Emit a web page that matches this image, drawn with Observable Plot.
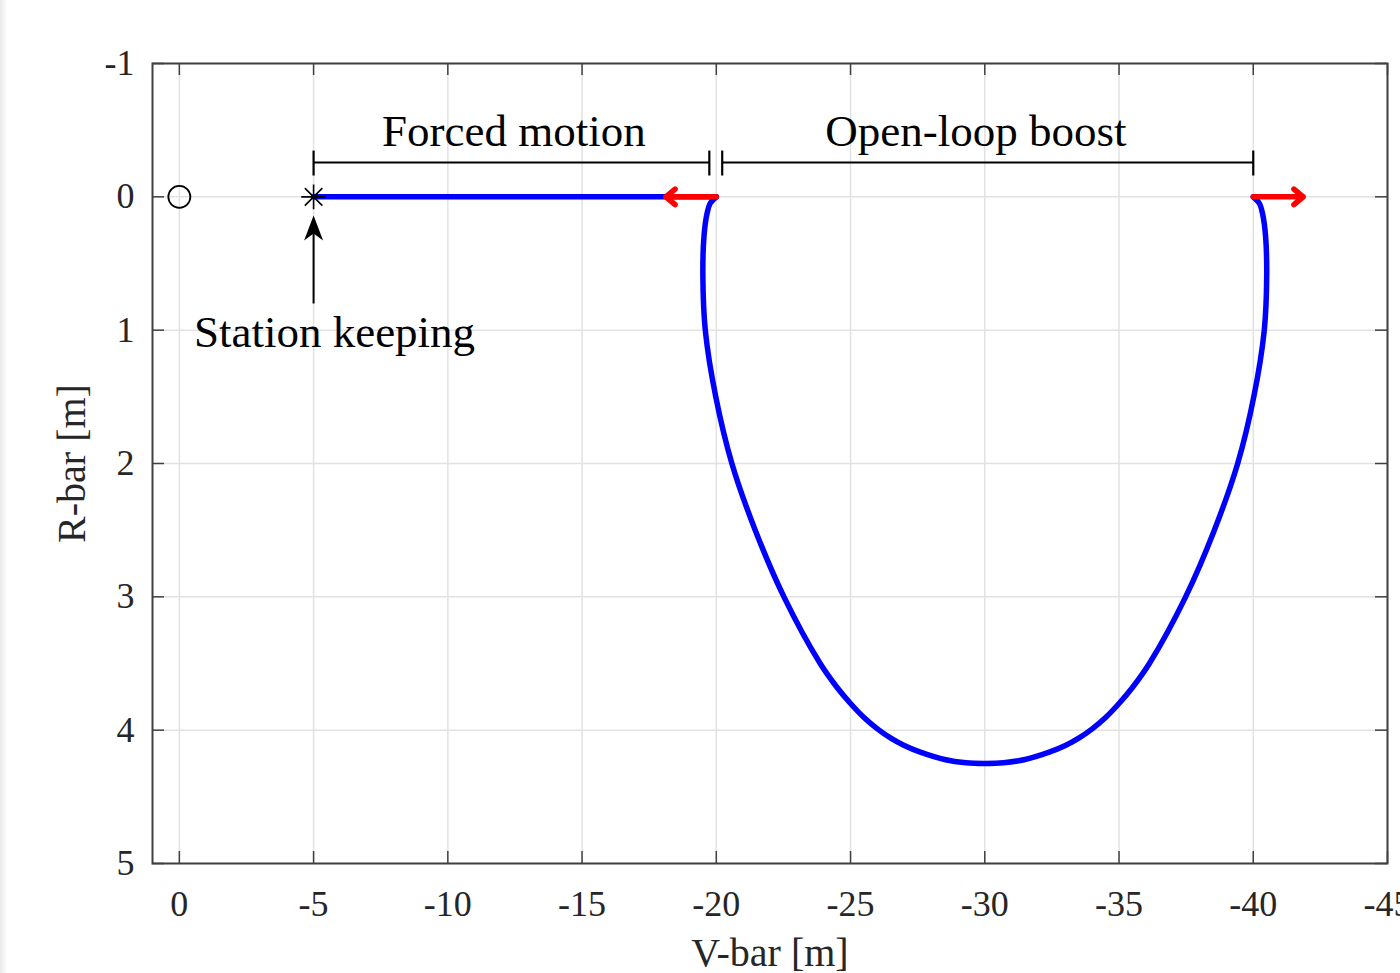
<!DOCTYPE html>
<html><head><meta charset="utf-8">
<script src="https://cdn.jsdelivr.net/npm/d3@7"></script>
<script src="https://cdn.jsdelivr.net/npm/@observablehq/plot@0.6"></script>
<style>
html,body{margin:0;padding:0;background:#fff;overflow:hidden;}
#edge{position:absolute;left:0;top:0;width:7px;height:973px;background:linear-gradient(to right,#e9e9e9,#f8f8f8 70%,#fff);}
</style></head><body>
<div id="chart"></div>
<div id="edge"></div>
<script>
// ---- data ----
const xTicks = [0, -5, -10, -15, -20, -25, -30, -35, -40, -45];
const yTicks = [-1, 0, 1, 2, 3, 4, 5];
const xLabel = "V-bar [m]";
const yLabel = "R-bar [m]";

// target (circle) and station-keeping point (asterisk)
const targetV = [0], targetR = [0];
const stationV = [-5], stationR = [0];

// forced motion segment
const forcedV = [-5, -20];
const forcedR = [0, 0];

// open-loop boost trajectory
const boostV = [-20, -19.77, -19.65, -19.54, -19.50, -19.59, -19.98, -20.58, -21.45, -22.52, -23.87, -24.50, -25.00, -25.50, -26.00, -26.50, -27.00, -27.60, -28.50, -29.30, -30.00,
                -30.70, -31.50, -32.40, -33.00, -33.50, -34.00, -34.50, -35.00, -35.50, -36.13, -37.48, -38.55, -39.42, -40.02, -40.41, -40.50, -40.46, -40.35, -40.23, -40];
const boostR = [0, 0.05, 0.13, 0.30, 0.60, 1.00, 1.50, 2.00, 2.50, 3.00, 3.50, 3.68, 3.80, 3.905, 3.99, 4.06, 4.115, 4.165, 4.22, 4.245, 4.25,
                4.245, 4.22, 4.165, 4.115, 4.06, 3.99, 3.905, 3.80, 3.68, 3.50, 3.00, 2.50, 2.00, 1.50, 1.00, 0.60, 0.30, 0.13, 0.05, 0];

// thrust arrows (red)
const thrustV1 = [-20, -40];
const thrustV2 = [-18.12, -41.86];
const thrustR = [0, 0];

// brackets
const bracketV1 = [-5, -20.22];
const bracketV2 = [-19.74, -40];
const bracketR = -0.257;
const bracketEnds = [-5, -19.74, -20.22, -40];
const bracketTickR1 = -0.347, bracketTickR2 = -0.16;

// annotations
const annotText = ["Forced motion", "Open-loop boost", "Station keeping"];
const annotV = [-12.46, -29.67, -5.78];
const annotR = [-0.493, -0.493, 1.02];

// station keeping arrow
const skArrowV = -5, skArrowFromR = 0.80, skArrowTipR = 0.14;

// ---- layout ----
const W = 1400, H = 973, mL = 152, mR = 13, mT = 63, mB = 110;
const pw = W - mL - mR, ph = H - mT - mB;
const frameColor = "#404040";
const tickFmt = d => `${d}`;

const stealth = {
  draw(ctx, size) {
    const s = Math.sqrt(size / Math.PI);
    ctx.moveTo(0, 0);
    ctx.lineTo(9.5 * s, 25 * s);
    ctx.lineTo(0, 18 * s);
    ctx.lineTo(-9.5 * s, 25 * s);
    ctx.closePath();
  }
};

const boost = boostV.map((v, i) => ({v, r: boostR[i]}));
const forced = forcedV.map((v, i) => ({v, r: forcedR[i]}));
const thrust = thrustV1.map((v, i) => ({v1: v, v2: thrustV2[i], r: thrustR[i]}));
const brackets = bracketV1.map((v, i) => ({v1: v, v2: bracketV2[i]}));

const plot = Plot.plot({
  width: W, height: H,
  marginLeft: mL, marginRight: mR, marginTop: mT, marginBottom: mB,
  style: {fontFamily: "'Liberation Serif','Times New Roman',serif", background: "#fff", color: "#262626"},
  x: {domain: [1, -45]},
  y: {domain: [-1, 5], reverse: true},
  marks: [
    Plot.gridX({ticks: xTicks, stroke: "#e2e2e2", strokeOpacity: 1, strokeWidth: 1.5}),
    Plot.gridY({ticks: yTicks, stroke: "#e2e2e2", strokeOpacity: 1, strokeWidth: 1.5}),
    Plot.ruleX(xTicks, {stroke: frameColor, strokeWidth: 1.5, insetTop: ph - 12}),
    Plot.ruleX(xTicks, {stroke: frameColor, strokeWidth: 1.5, insetBottom: ph - 12}),
    Plot.ruleY(yTicks, {stroke: frameColor, strokeWidth: 1.5, insetRight: pw - 12}),
    Plot.ruleY(yTicks, {stroke: frameColor, strokeWidth: 1.5, insetLeft: pw - 12}),
    Plot.frame({stroke: frameColor, strokeWidth: 2}),
    Plot.axisX({ticks: xTicks, tickSize: 0, tickPadding: 27, tickFormat: tickFmt, fontSize: 36, label: null}),
    Plot.axisY({ticks: yTicks, tickSize: 0, tickPadding: 18, tickFormat: tickFmt, fontSize: 36, label: null}),
    Plot.text([xLabel], {frameAnchor: "bottom", lineAnchor: "bottom", textAnchor: "middle", dy: 102, fontSize: 40, fill: "#262626"}),
    Plot.text([yLabel], {frameAnchor: "left", lineAnchor: "middle", textAnchor: "middle", dx: -80, rotate: -90, fontSize: 40, fill: "#262626"}),
    // brackets
    Plot.link(brackets, {x1: "v1", x2: "v2", y1: () => bracketR, y2: () => bracketR, stroke: "black", strokeWidth: 2}),
    Plot.link(bracketEnds, {x1: d => d, x2: d => d, y1: () => bracketTickR1, y2: () => bracketTickR2, stroke: "black", strokeWidth: 2.2}),
    // trajectory
    Plot.line(forced, {x: "v", y: "r", stroke: "#0000ff", strokeWidth: 5.5}),
    Plot.line(boost, {x: "v", y: "r", stroke: "#0000ff", strokeWidth: 5.5, curve: "catmull-rom"}),
    Plot.arrow(thrust, {x1: "v1", x2: "v2", y1: "r", y2: "r", stroke: "#ff0000", strokeWidth: 5.5, headLength: 3.3, headAngle: 80}),
    // markers
    Plot.dot(targetV, {x: d => d, y: (d, i) => targetR[i], r: 11, stroke: "black", strokeWidth: 1.8, fill: "none"}),
    Plot.dot(stationV, {x: d => d, y: (d, i) => stationR[i], r: 8, symbol: "plus", stroke: "black", strokeWidth: 1.6}),
    Plot.dot(stationV, {x: d => d, y: (d, i) => stationR[i], r: 8, symbol: "times", stroke: "black", strokeWidth: 1.6}),
    // station keeping arrow
    Plot.link([0], {x1: () => skArrowV, x2: () => skArrowV, y1: () => skArrowFromR, y2: () => skArrowTipR + 0.12, stroke: "black", strokeWidth: 2}),
    Plot.dot([0], {x: () => skArrowV, y: () => skArrowTipR, r: 1, symbol: stealth, fill: "black", stroke: "none"}),
    // annotations
    Plot.text(annotText, {x: (d, i) => annotV[i], y: (d, i) => annotR[i], text: d => d, fontSize: 45, fill: "black"})
  ]
});
document.getElementById("chart").appendChild(plot);
</script></body></html>
